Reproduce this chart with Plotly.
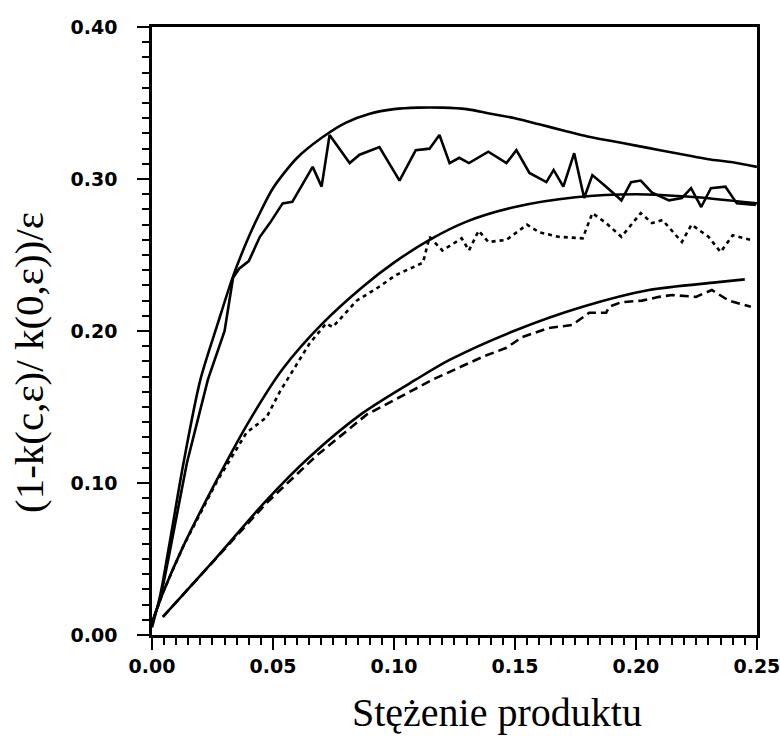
# %%
import plotly.graph_objects as go

# %%
# Values
model1_x = [0, 0.0035, 0.007, 0.013, 0.02, 0.027, 0.0335, 0.04, 0.045, 0.05, 0.06, 0.07, 0.08,
            0.09, 0.10, 0.11, 0.12, 0.13, 0.14, 0.15, 0.16, 0.17, 0.18, 0.19, 0.20, 0.21, 0.22,
            0.23, 0.24, 0.25]
model1_y = [0.005, 0.027, 0.058, 0.113, 0.168, 0.204, 0.236, 0.262, 0.279, 0.294, 0.314, 0.327,
            0.337, 0.343, 0.346, 0.347, 0.347, 0.346, 0.343, 0.340, 0.336, 0.332, 0.328, 0.325,
            0.322, 0.319, 0.316, 0.313, 0.311, 0.308]

data1_x = [0, 0.0035, 0.007, 0.0144, 0.0231, 0.030, 0.0335, 0.036, 0.040, 0.0446, 0.0487, 0.054,
           0.058, 0.0664, 0.0701, 0.0734, 0.0817, 0.0858, 0.094, 0.1023, 0.109, 0.1147, 0.1188,
           0.123, 0.127, 0.131, 0.139, 0.1465, 0.1506, 0.156, 0.163, 0.166, 0.170, 0.1745,
           0.1786, 0.182, 0.1877, 0.194, 0.198, 0.202, 0.2067, 0.2137, 0.219, 0.2228, 0.227,
           0.231, 0.237, 0.2417, 0.2496]
data1_y = [0.008, 0.024, 0.052, 0.113, 0.168, 0.200, 0.235, 0.241, 0.246, 0.262, 0.271, 0.284,
           0.285, 0.308, 0.295, 0.329, 0.3105, 0.316, 0.321, 0.299, 0.319, 0.320, 0.329,
           0.3105, 0.314, 0.3105, 0.318, 0.3105, 0.319, 0.304, 0.298, 0.306, 0.295, 0.317,
           0.2875, 0.3026, 0.295, 0.286, 0.298, 0.299, 0.291, 0.286, 0.2875, 0.294, 0.2816,
           0.294, 0.295, 0.284, 0.283]

model2_x = [0, 0.0045, 0.0128, 0.0268, 0.0404, 0.054, 0.0705, 0.087, 0.10, 0.1147, 0.13, 0.15,
            0.175, 0.20, 0.225, 0.25]
model2_y = [0.008, 0.0276, 0.058, 0.102, 0.1414, 0.175, 0.205, 0.229, 0.245, 0.260, 0.272,
            0.2816, 0.288, 0.290, 0.288, 0.284]

data2_x = [0, 0.0045, 0.0128, 0.0268, 0.039, 0.0474, 0.0528, 0.0652, 0.072, 0.0747, 0.0846,
           0.0928, 0.101, 0.112, 0.1147, 0.12, 0.128, 0.131, 0.135, 0.139, 0.1465, 0.155,
           0.160, 0.168, 0.178, 0.182, 0.1877, 0.194, 0.202, 0.2067, 0.211, 0.219, 0.223,
           0.230, 0.235, 0.240, 0.2475]
data2_y = [0.008, 0.028, 0.058, 0.101, 0.133, 0.1434, 0.160, 0.192, 0.205, 0.2026, 0.220,
           0.228, 0.237, 0.245, 0.262, 0.253, 0.261, 0.253, 0.266, 0.2586, 0.260, 0.270,
           0.265, 0.262, 0.261, 0.2776, 0.271, 0.262, 0.2776, 0.271, 0.273, 0.2586, 0.270,
           0.262, 0.252, 0.263, 0.260]

model3_x = [0.0045, 0.0268, 0.0474, 0.065, 0.087, 0.109, 0.123, 0.1506, 0.178, 0.2054, 0.233,
            0.245]
model3_y = [0.012, 0.0513, 0.0888, 0.117, 0.146, 0.168, 0.181, 0.2007, 0.216, 0.227, 0.232,
            0.234]

data3_x = [0.0045, 0.0268, 0.0474, 0.068, 0.0887, 0.116, 0.131, 0.1366, 0.1465, 0.153, 0.164,
           0.1737, 0.1807, 0.1877, 0.189, 0.194, 0.2025, 0.2096, 0.215, 0.2248, 0.2314,
           0.2384, 0.2475]
data3_y = [0.012, 0.051, 0.087, 0.118, 0.145, 0.168, 0.179, 0.183, 0.189, 0.196, 0.202,
           0.204, 0.212, 0.212, 0.216, 0.219, 0.220, 0.2225, 0.2237, 0.2225, 0.227,
           0.220, 0.216]

x_ticks = [0.00, 0.05, 0.10, 0.15, 0.20, 0.25]
y_ticks = [0.00, 0.10, 0.20, 0.30, 0.40]

# %%
fig = go.Figure()
lw = 2.6
fig.add_trace(go.Scatter(x=model1_x, y=model1_y, mode='lines',
                         line=dict(color='black', width=lw, shape='spline', smoothing=0.8)))
fig.add_trace(go.Scatter(x=data1_x, y=data1_y, mode='lines',
                         line=dict(color='black', width=lw)))
fig.add_trace(go.Scatter(x=model2_x, y=model2_y, mode='lines',
                         line=dict(color='black', width=lw, shape='spline', smoothing=0.8)))
fig.add_trace(go.Scatter(x=data2_x, y=data2_y, mode='lines',
                         line=dict(color='black', width=lw, dash='4px,4px')))
fig.add_trace(go.Scatter(x=model3_x, y=model3_y, mode='lines',
                         line=dict(color='black', width=lw, shape='spline', smoothing=0.8)))
fig.add_trace(go.Scatter(x=data3_x, y=data3_y, mode='lines',
                         line=dict(color='black', width=lw, dash='9px,5px')))

tick_font = dict(family='DejaVu Sans', size=19, color='black', weight='bold')
axis_common = dict(showline=True, linecolor='black', linewidth=2.6, mirror=True,
                   ticks='outside', ticklen=12, tickwidth=2.2, tickcolor='black',
                   showgrid=False, zeroline=False, tickfont=tick_font,
                   ticklabeloverflow='allow', automargin=False)

fig.update_xaxes(range=[0, 0.25005], tickvals=x_ticks,
                 ticktext=[f'{v:.2f}' for v in x_ticks],
                 minor=dict(dtick=0.005, ticks='outside', ticklen=7, tickwidth=2,
                            tickcolor='black'),
                 ticklabelstandoff=0, **axis_common)
fig.update_yaxes(range=[0, 0.40005], tickvals=y_ticks,
                 ticktext=[f'{v:.2f}' for v in y_ticks],
                 minor=dict(dtick=0.01, ticks='outside', ticklen=7, tickwidth=2,
                            tickcolor='black'),
                 ticklabelstandoff=16, **axis_common)

W, H = 780, 736
L, T, PW, PH = 152, 27, 605, 608
fig.add_annotation(text='Stężenie produktu', xref='paper', yref='paper',
                   x=(497 - L) / PW, y=-(737 - T - PH) / PH, xanchor='center',
                   yanchor='bottom', showarrow=False,
                   font=dict(family='Liberation Serif', size=40, color='black'))
fig.add_annotation(text='(1-k(c,ε)/ k(0,ε))/ε', xref='paper', yref='paper',
                   x=-(L - 29) / PW, y=(T + PH - 363) / PH, xanchor='center', yanchor='middle',
                   textangle=-90, showarrow=False,
                   font=dict(family='Liberation Serif', size=41, color='black'))

fig.update_layout(width=W, height=H, showlegend=False,
                  margin=dict(l=L, r=W - L - PW, t=T, b=H - T - PH, autoexpand=False),
                  plot_bgcolor='white', paper_bgcolor='white')

# drop the page's default body margin so the figure sits at the window corner
fig.write_html("out.html", config={'displayModeBar': False},
               post_script="document.body.style.margin='0';")
